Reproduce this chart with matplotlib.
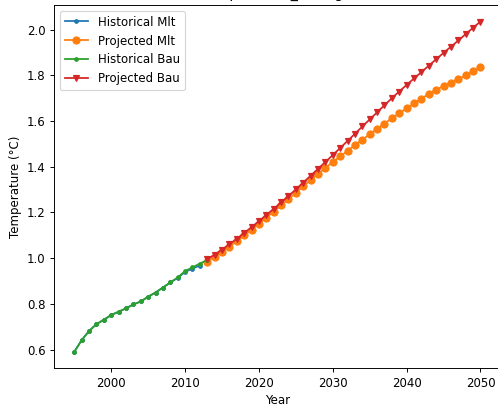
import numpy as np
import matplotlib
matplotlib.use('Agg')
import matplotlib.pyplot as plt

# historical (1995-2012 / 2013)
hist_years_mlt = list(range(1995, 2013))
hist_mlt = [0.591, 0.642, 0.682, 0.712, 0.731, 0.752, 0.766, 0.781, 0.798, 0.811,
            0.832, 0.850, 0.872, 0.894, 0.914, 0.940, 0.955, 0.968]
hist_years_bau = list(range(1995, 2014))
hist_bau = [0.591, 0.642, 0.682, 0.712, 0.731, 0.752, 0.766, 0.781, 0.798, 0.811,
            0.832, 0.850, 0.872, 0.894, 0.916, 0.944, 0.960, 0.977, 0.992]

# projections (2013-2050)
proj_years = list(range(2013, 2051))
proj_mlt = [0.985, 1.006, 1.028, 1.051, 1.075, 1.100, 1.125, 1.151, 1.177, 1.204,
            1.231, 1.258, 1.286, 1.314, 1.342, 1.369, 1.395, 1.421, 1.445, 1.470,
            1.495, 1.518, 1.542, 1.566, 1.589, 1.612, 1.634, 1.655, 1.677, 1.698,
            1.718, 1.736, 1.753, 1.768, 1.783, 1.799, 1.817, 1.835]
proj_bau = [0.995, 1.016, 1.038, 1.061, 1.085, 1.110, 1.136, 1.162, 1.189, 1.216,
            1.244, 1.272, 1.301, 1.331, 1.361, 1.391, 1.421, 1.451, 1.482, 1.513,
            1.544, 1.576, 1.607, 1.638, 1.669, 1.700, 1.729, 1.758, 1.786, 1.814,
            1.842, 1.870, 1.898, 1.925, 1.952, 1.980, 2.008, 2.035]

DPI = 85
fig = plt.figure(figsize=(499 / DPI, 405 / DPI), dpi=DPI)
ax = fig.add_axes([54 / 499, 36.7 / 405, 446.8 / 499, 363.3 / 405])

ax.plot(hist_years_mlt, hist_mlt, marker='.', label='Historical Mlt')
ax.plot(proj_years, proj_mlt, marker='o', label='Projected Mlt')
ax.plot(hist_years_bau, hist_bau, marker='.', label='Historical Bau')
ax.plot(proj_years, proj_bau, marker='v', markersize=5, label='Projected Bau')

# title sits above the visible area, as in the cropped original
ax.set_title('(Temperature_Change)')
ax.set_xlabel('Year')
ax.set_ylabel('Temperature (°C)')
ax.legend(loc='upper left')

fig.savefig('out.png', dpi=DPI)
